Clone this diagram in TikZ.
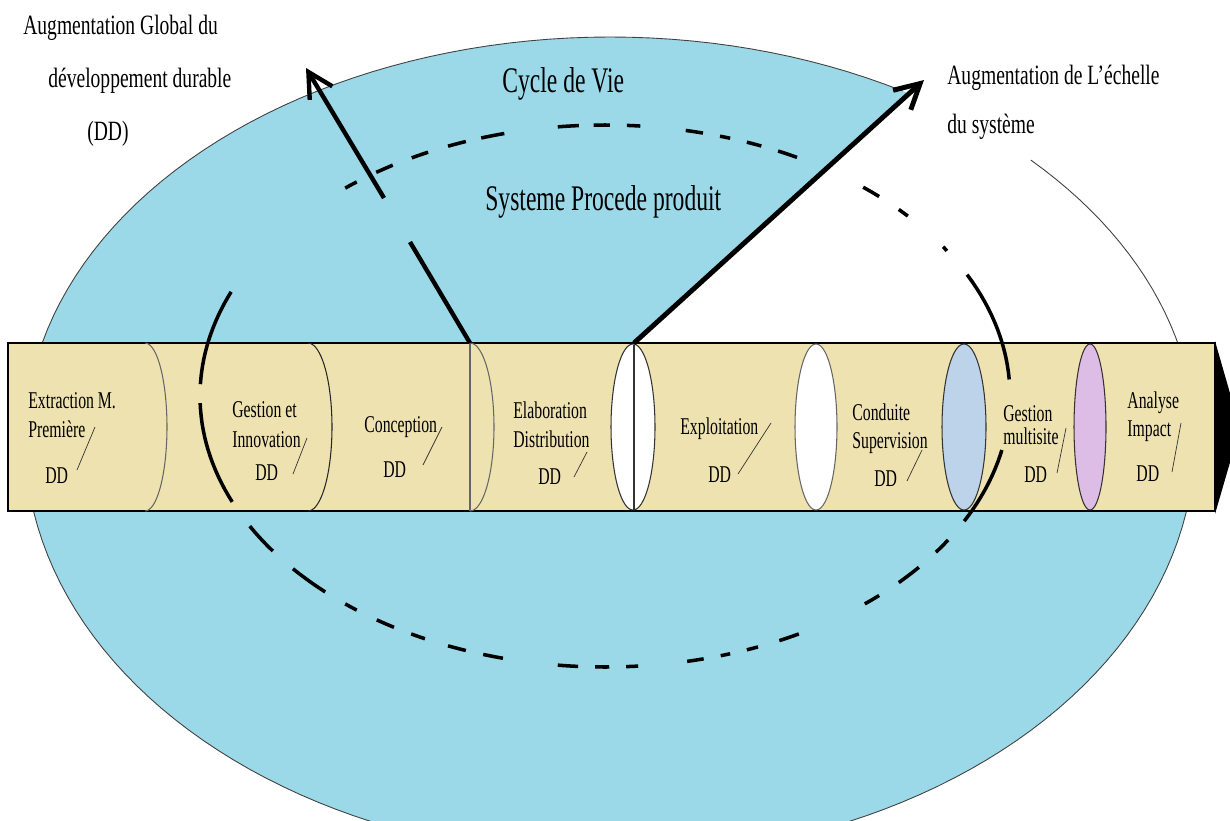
\documentclass[tikz,border=0pt]{standalone}
\usepackage{fontspec}
\setmainfont[FakeStretch=0.7]{Liberation Serif}
\newfontfamily\narrowserif[FakeStretch=0.655]{Liberation Serif}
\usetikzlibrary{arrows.meta}

\definecolor{lifeblue}{HTML}{9BD8E8}
\definecolor{tubetan}{HTML}{EEE2B0}
\definecolor{ringblue}{HTML}{BDD3EA}
\definecolor{ringmauve}{HTML}{DDBDE5}

\begin{document}
\begin{tikzpicture}[x=0.02cm, y=-0.02cm,
  lifeedge/.style={draw=black!75, line width=0.5pt},
  tubeedge/.style={draw=black, line width=0.8pt},
  divider/.style={draw=black!60, line width=0.6pt},
  ringedge/.style={draw=black!80, line width=0.6pt},
  cycleline/.style={draw=black, line width=2pt},
  thrust/.style={draw=black, line width=2.5pt},
  slash/.style={draw=black!80, line width=0.4pt},
  lbl/.style={inner sep=0pt, anchor=base west},
  headfont/.style={font=\fontsize{15.9}{18}\selectfont},
  titlefont/.style={font=\narrowserif\fontsize{20.5}{24}\selectfont},
  stagefont/.style={font=\narrowserif\fontsize{13.7}{16}\selectfont},
  barb/.style={-{Straight Barb[length=14pt,width=15pt]}},
]
\useasboundingbox (0,0) rectangle (1230,821);
\clip (0,0) rectangle (1230,821);

% life-cycle ellipse (flatter on top than at the bottom)
\fill[lifeblue]
  plot[domain=0:180,samples=91] ({610+585*cos(\x)},{440+418*sin(\x)})
  -- plot[domain=180:360,samples=91] ({610+585*cos(\x)},{440+403*sin(\x)}) -- cycle;
% the sector right of the scale arrow is left blank
\fill[white] (635,343) -- (924,78) -- (1230,78) -- (1230,343) -- cycle;
\draw[lifeedge] plot[domain=0:180,samples=91] ({610+585*cos(\x)},{440+418*sin(\x)});
\draw[lifeedge] plot[domain=180:300,samples=61] ({610+585*cos(\x)},{440+403*sin(\x)});
\draw[lifeedge] plot[domain=316:360,samples=25] ({610+585*cos(\x)},{440+403*sin(\x)});

% the process tube
\draw[tubeedge, fill=tubetan] (8,343) rectangle (1215,511);
\fill[black] (1215,341) -- (1240,428) -- (1215,514) -- cycle;

% cylinder joints
\draw[divider] plot[domain=-90:90,samples=40] ({145+22*cos(\x)},{427+84*sin(\x)});
\draw[draw=black!85, line width=0.6pt] plot[domain=-90:90,samples=40] ({308+24*cos(\x)},{427+84*sin(\x)});
\draw[divider] (470,343) -- (470,511);
\draw[divider] plot[domain=-90:90,samples=40] ({470+24*cos(\x)},{427+84*sin(\x)});

% rings
\draw[ringedge, fill=white] plot[domain=0:360,samples=91] ({633+22*cos(\x)},{427+83*sin(\x)}) -- cycle;
\draw[ringedge] (634,345) -- (634,510);
\draw[divider, fill=white] plot[domain=0:360,samples=91] ({816+21*cos(\x)},{427+83*sin(\x)}) -- cycle;
\draw[ringedge, fill=ringblue] plot[domain=0:360,samples=91] ({964+22*cos(\x)},{427+83*sin(\x)}) -- cycle;
\draw[ringedge, fill=ringmauve] plot[domain=0:360,samples=91] ({1090+16*cos(\x)},{427+83*sin(\x)}) -- cycle;

% stage labels
\node[lbl, stagefont] (s1a) at (28,408) {Extraction M.};
\node[lbl, stagefont] (s1b) at (28,437) {Première};
\node[lbl, stagefont] (s1c) at (45,483) {DD};
\draw[slash] (95,427) -- (77,470);

\node[lbl, stagefont] (s2a) at (232,417) {Gestion et};
\node[lbl, stagefont] (s2b) at (232,447) {Innovation};
\node[lbl, stagefont] (s2c) at (255,480) {DD};
\draw[slash] (307,438) -- (293,474);

\node[lbl, stagefont] (s3a) at (364,432) {Conception};
\node[lbl, stagefont] (s3c) at (383,477) {DD};
\draw[slash] (442,427) -- (423,465);

\node[lbl, stagefont] (s4a) at (513,418) {Elaboration};
\node[lbl, stagefont] (s4b) at (513,447) {Distribution};
\node[lbl, stagefont] (s4c) at (538,484) {DD};
\draw[slash] (587,452) -- (574,477);

\node[lbl, stagefont] (s5a) at (680,434) {Exploitation};
\node[lbl, stagefont] (s5c) at (708,482) {DD};
\draw[slash] (771,423) -- (738,474);

\node[lbl, stagefont] (s6a) at (852,420) {Conduite};
\node[lbl, stagefont] (s6b) at (852,448) {Supervision};
\node[lbl, stagefont] (s6c) at (874,486) {DD};
\draw[slash] (922,450) -- (907,481);

\node[lbl, stagefont] (s7a) at (1003,421) {Gestion};
\node[lbl, stagefont] (s7b) at (1003,444) {multisite};
\node[lbl, stagefont] (s7c) at (1024,482) {DD};
\draw[slash] (1066,428) -- (1057,473);

\node[lbl, stagefont] (s8a) at (1127,408) {Analyse};
\node[lbl, stagefont] (s8b) at (1127,436) {Impact};
\node[lbl, stagefont] (s8c) at (1136,481) {DD};
\draw[slash] (1181,423) -- (1172,472);

% product/process system loop
\foreach \a/\b in {230.1/232.2, 235.6/238.4, 241.5/244.1, 247.2/249.9, 252.2/255.6,
                   263.3/266.3, 268.4/270.7, 273.1/275.0, 281.5/284.0, 286.5/288.0,
                   290.5/292.7, 295.3/298.3, 309.6/312.6, 316.5/318.4, 326.6/327.6,
                   333.4/356.5, 11.5/27.5,
                   32.1/35.2, 39.2/43.5, 47.4/50.1, 61.4/64.5, 67.8/69.5, 72.0/73.4,
                   75.9/78.3, 85.3/87.0, 89.4/91.4, 93.8/96.7, 104.6/107.5, 110.1/112.8,
                   116.4/118.6, 121.4/124.3, 127.8/129.9, 133.7/140.4, 145.1/151.3,
                   157/178.5, 182.5/202.6}
  \draw[cycleline] plot[domain=\a:\b,samples=16] ({605+405*cos(\x)},{396+271*sin(\x)});

% headings
\node[lbl, titlefont] (cycle) at (502,92) {Cycle de Vie};
\node[lbl, titlefont] (system) at (485,210) {Systeme Procede produit};
\node[lbl, headfont] (dd1) at (23,35) {Augmentation Global du};
\node[lbl, headfont] (dd2) at (48,88) {développement durable};
\node[lbl, headfont] (dd3) at (87,140) {(DD)};
\node[lbl, headfont] (sc1) at (947,85) {Augmentation de L’échelle};
\node[lbl, headfont] (sc2) at (947,133) {du système};

% growth arrows
\coordinate (ddbase) at (470,343);
\coordinate (ddgapa) at (410,242);
\coordinate (ddgapb) at (384,198);
\coordinate (ddtip) at (306,68);
\coordinate (scbase) at (634,343);
\coordinate (sctip) at (924,80);
\draw[thrust] (ddbase) -- (ddgapa);
\draw[thrust, barb] (ddgapb) -- (ddtip);
\draw[thrust, line width=2.8pt, barb] (scbase) -- (sctip);
\end{tikzpicture}
\end{document}
